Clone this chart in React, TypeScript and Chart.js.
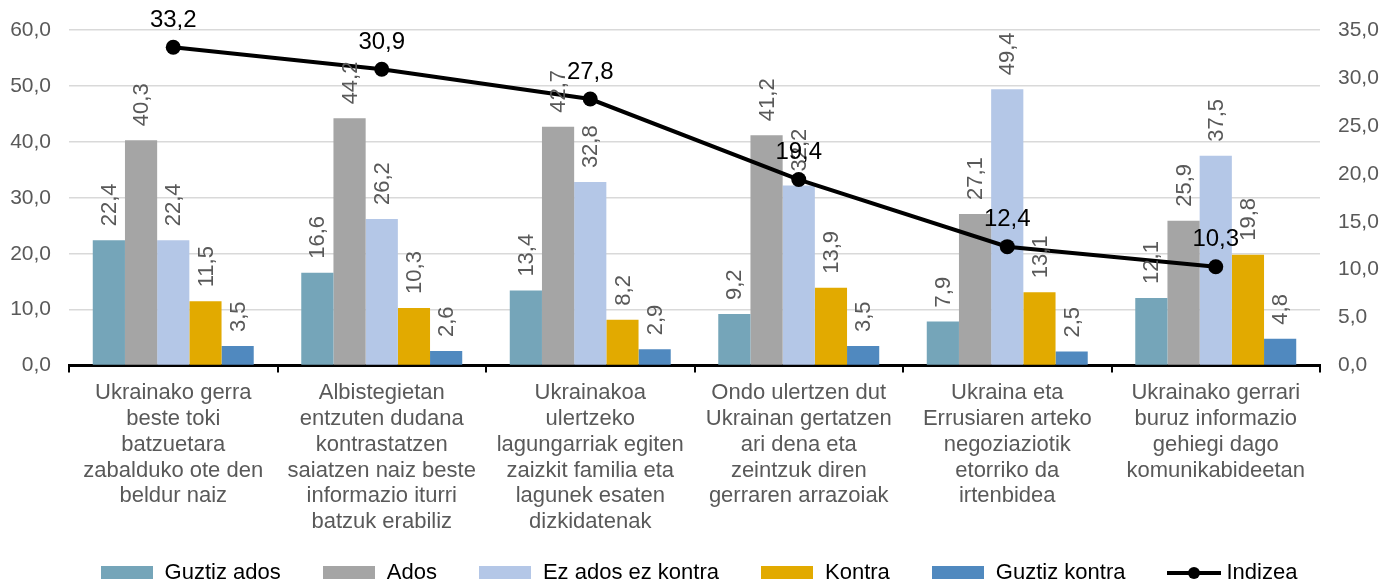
import React, { useEffect, useRef } from "react";
import { Chart, registerables } from "chart.js";

Chart.register(...registerables);

const categories: string[][] = [
  ["Ukrainako gerra", "beste toki", "batzuetara", "zabalduko ote den", "beldur naiz"],
  ["Albistegietan", "entzuten dudana", "kontrastatzen", "saiatzen naiz beste", "informazio iturri", "batzuk erabiliz"],
  ["Ukrainakoa", "ulertzeko", "lagungarriak egiten", "zaizkit familia eta", "lagunek esaten", "dizkidatenak"],
  ["Ondo ulertzen dut", "Ukrainan gertatzen", "ari dena eta", "zeintzuk diren", "gerraren arrazoiak"],
  ["Ukraina eta", "Errusiaren arteko", "negoziaziotik", "etorriko da", "irtenbidea"],
  ["Ukrainako gerrari", "buruz informazio", "gehiegi dago", "komunikabideetan"],
];

const guztizAdos = [22.4, 16.6, 13.4, 9.2, 7.9, 12.1];
const ados = [40.3, 44.2, 42.7, 41.2, 27.1, 25.9];
const ezAdosEzKontra = [22.4, 26.2, 32.8, 32.2, 49.4, 37.5];
const kontra = [11.5, 10.3, 8.2, 13.9, 13.1, 19.8];
const guztizKontra = [3.5, 2.6, 2.9, 3.5, 2.5, 4.8];
const indizea = [33.2, 30.9, 27.8, 19.4, 12.4, 10.3];

const barSeries = [
  { label: "Guztiz ados", data: guztizAdos, color: "#75A5B9" },
  { label: "Ados", data: ados, color: "#A5A5A5" },
  { label: "Ez ados ez kontra", data: ezAdosEzKontra, color: "#B4C7E7" },
  { label: "Kontra", data: kontra, color: "#E2AA00" },
  { label: "Guztiz kontra", data: guztizKontra, color: "#5089BF" },
];
const lineSeries = { label: "Indizea", data: indizea, color: "#000000" };

const FONT = "'Liberation Sans', Arial, sans-serif";
const fmt = (v: number) => v.toFixed(1).replace(".", ",");

const valueLabels = {
  id: "valueLabels",
  afterDatasetsDraw(chart: any) {
    const ctx = chart.ctx;
    ctx.save();
    chart.data.datasets.forEach((ds: any, i: number) => {
      const meta = chart.getDatasetMeta(i);
      if (meta.type !== "bar") return;
      ctx.font = `22px ${FONT}`;
      ctx.fillStyle = "#595959";
      ctx.textAlign = "left";
      ctx.textBaseline = "middle";
      meta.data.forEach((el: any, j: number) => {
        ctx.save();
        ctx.translate(el.x + 1, el.y - 14);
        ctx.rotate(-Math.PI / 2);
        ctx.fillText(fmt(ds.data[j]), 0, 0);
        ctx.restore();
      });
    });
    chart.data.datasets.forEach((ds: any, i: number) => {
      const meta = chart.getDatasetMeta(i);
      if (meta.type !== "line") return;
      ctx.font = `24px ${FONT}`;
      ctx.fillStyle = "#000000";
      ctx.textAlign = "center";
      ctx.textBaseline = "middle";
      meta.data.forEach((el: any, j: number) => {
        ctx.fillText(fmt(ds.data[j]), el.x, el.y - 27);
      });
    });
    ctx.restore();
  },
};

export default function App() {
  const ref = useRef<HTMLCanvasElement | null>(null);

  useEffect(() => {
    if (!ref.current) return;
    const datasets: any[] = barSeries.map((s) => ({
      type: "bar",
      label: s.label,
      data: s.data,
      backgroundColor: s.color,
      borderWidth: 0,
      yAxisID: "y",
      order: 1,
      categoryPercentage: 0.772,
      barPercentage: 1,
    }));
    datasets.push({
      type: "line",
      label: lineSeries.label,
      data: lineSeries.data,
      borderColor: lineSeries.color,
      backgroundColor: lineSeries.color,
      borderWidth: 4,
      pointRadius: 7.5,
      pointBackgroundColor: lineSeries.color,
      pointBorderWidth: 0,
      tension: 0,
      yAxisID: "y1",
      order: 0,
    });
    const chart = new Chart(ref.current, {
      type: "bar",
      data: { labels: categories, datasets },
      options: {
        animation: false,
        responsive: true,
        maintainAspectRatio: false,
        layout: { autoPadding: false, padding: { top: 22, right: 8, bottom: 41, left: 0 } },
        plugins: { legend: { display: false }, tooltip: { enabled: false } },
        scales: {
          x: {
            afterFit: (scale: any) => {
              scale.paddingLeft = 0;
              scale.paddingRight = 0;
            },
            grid: {
              display: true,
              drawOnChartArea: false,
              drawTicks: true,
              tickLength: 7,
              color: "#000000",
              lineWidth: 2,
              offset: true,
            },
            border: { display: true, color: "#000000", width: 3 },
            ticks: {
              color: "#595959",
              font: { family: FONT, size: 22, lineHeight: 1.17 },
              maxRotation: 0,
              minRotation: 0,
              autoSkip: false,
              padding: 8,
            },
          },
          y: {
            position: "left",
            min: 0,
            max: 60,
            afterFit: (scale: any) => {
              scale.width = 61;
              scale.paddingTop = 0;
              scale.paddingBottom = 0;
            },
            grid: { color: "#D9D9D9", lineWidth: 1.5, drawTicks: false },
            border: { display: false },
            ticks: {
              stepSize: 10,
              color: "#595959",
              font: { family: FONT, size: 21 },
              padding: 18,
              callback: (v: any) => fmt(Number(v)),
            },
          },
          y1: {
            position: "right",
            min: 0,
            max: 35,
            afterFit: (scale: any) => {
              scale.width = 62;
              scale.paddingTop = 0;
              scale.paddingBottom = 0;
            },
            grid: { display: false, drawTicks: false },
            border: { display: false },
            ticks: {
              stepSize: 5,
              color: "#595959",
              font: { family: FONT, size: 21 },
              padding: 18,
              callback: (v: any) => fmt(Number(v)),
            },
          },
        },
      },
      plugins: [valueLabels],
    } as any);
    return () => chart.destroy();
  }, []);

  const legendItems = [
    ...barSeries.map((s) => ({ label: s.label, color: s.color, kind: "bar" })),
    { label: lineSeries.label, color: lineSeries.color, kind: "line" },
  ];

  return (
    <div style={{ position: "relative", width: "100%", height: 576, fontFamily: FONT }}>
      <canvas ref={ref} />
      <div
        style={{
          position: "absolute",
          left: 0,
          right: 0,
          top: 551,
          display: "flex",
          justifyContent: "center",
          alignItems: "center",
          gap: 42,
          fontSize: 22,
          color: "#000",
          lineHeight: "26px",
          whiteSpace: "nowrap",
        }}
      >
        {legendItems.map((it) => (
          <div key={it.label} style={{ display: "flex", alignItems: "center" }}>
            {it.kind === "bar" ? (
              <span style={{ display: "inline-block", width: 52, height: 13, background: it.color, marginRight: 12 }} />
            ) : (
              <span style={{ position: "relative", display: "inline-block", width: 54, height: 13, marginRight: 5 }}>
                <span style={{ position: "absolute", left: 0, right: 0, top: 5, height: 4, background: it.color }} />
                <span style={{ position: "absolute", left: 21, top: 1, width: 12, height: 12, borderRadius: 6, background: it.color }} />
              </span>
            )}
            <span>{it.label}</span>
          </div>
        ))}
      </div>
    </div>
  );
}
